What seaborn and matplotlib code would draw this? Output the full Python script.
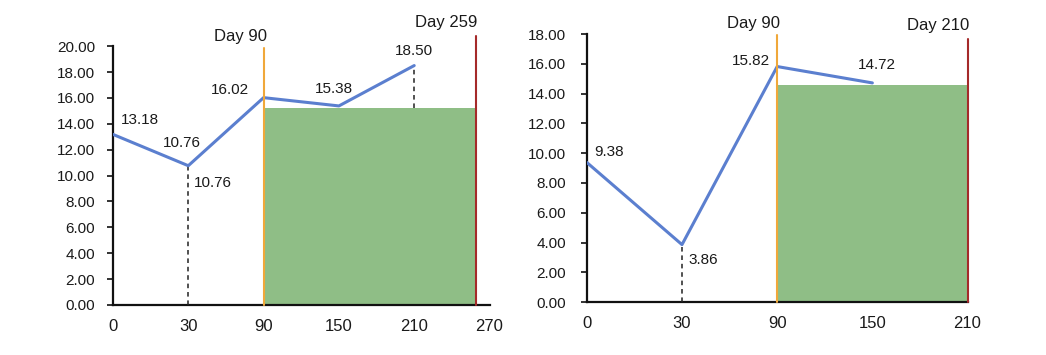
import numpy as np
import pandas as pd
import matplotlib
matplotlib.use("Agg")
import matplotlib.pyplot as plt
import seaborn as sns

# ---- data ----
left_days = ["0", "30", "90", "150", "210", "270"]
left_values = [13.18, 10.76, 16.02, 15.38, 18.50]
left_fill_level = 15.2
left_end_day = 259
left_yticks = [0, 2, 4, 6, 8, 10, 12, 14, 16, 18, 20]

right_days = ["0", "30", "90", "150", "210"]
right_values = [9.38, 3.86, 15.82, 14.72]
right_fill_level = 14.6
right_end_day = 210
right_yticks = [0, 2, 4, 6, 8, 10, 12, 14, 16, 18]

start_day_label = "Day 90"

BLUE = "#5b7fcf"
GREEN = "#8fbe86"
ORANGE = "#f0a83a"
RED = "#a52a2a"
TXT = "#1a1a1a"

sns.set_style("white")
plt.rcParams["font.family"] = ["Liberation Sans", "DejaVu Sans"]

fig = plt.figure(figsize=(10.46, 3.55), dpi=100)
axL = fig.add_axes([0.108, 0.141, 0.360, 0.729])
axR = fig.add_axes([0.561, 0.149, 0.364, 0.755])


def day_to_pos(day, days):
    d = [float(x) for x in days]
    for i in range(len(d) - 1):
        if d[i] <= day <= d[i + 1]:
            return i + (day - d[i]) / (d[i + 1] - d[i])
    return len(d) - 1


def style(ax, days, yticks, ypad):
    ax.set_xlim(0, len(days) - 1)
    ax.set_ylim(0, yticks[-1])
    ax.set_xticks(range(len(days)))
    ax.set_xticklabels(days)
    ax.set_yticks(yticks)
    ax.set_yticklabels([f"{v:.2f}" for v in yticks])
    for s in ["top", "right"]:
        ax.spines[s].set_visible(False)
    for s in ["left", "bottom"]:
        ax.spines[s].set_color("#111111")
        ax.spines[s].set_linewidth(1.6)
    ax.tick_params(axis="y", length=4, width=1.2, color="#111111", labelsize=11,
                   labelcolor=TXT, pad=ypad, left=True)
    ax.tick_params(axis="x", length=0, labelsize=12, labelcolor=TXT, pad=10)
    ax.grid(False)


def panel(ax, days, values, fill_level, end_day, yticks, ypad, dashes):
    style(ax, days, yticks, ypad)
    end_pos = day_to_pos(end_day, days)
    ax.fill_between([2, end_pos], [fill_level, fill_level], 0, color=GREEN, lw=0, zorder=1)
    df = pd.DataFrame({"pos": np.arange(len(values)), "val": values})
    sns.lineplot(data=df, x="pos", y="val", ax=ax, color=BLUE, lw=2.2, zorder=4)
    ax.set_xlabel("")
    ax.set_ylabel("")
    for (x, y0, y1) in dashes:
        ax.plot([x, x], [y0, y1], ls=(0, (3, 2.5)), color="#222222", lw=1.1, zorder=3)
    return end_pos


# left panel
endL = panel(axL, left_days, left_values, left_fill_level, left_end_day, left_yticks, 9.0,
             [(1, 0, left_values[1]), (4, left_fill_level, left_values[4])])
axL.plot([2, 2], [0, 19.85], color=ORANGE, lw=1.5, clip_on=False, zorder=5)
axL.plot([endL, endL], [0, 20.8], color=RED, lw=1.5, clip_on=False, zorder=5)
for (x, y, s) in [(0.36, 14.3, "13.18"), (0.92, 12.5, "10.76"), (1.33, 9.4, "10.76"),
                  (1.55, 16.6, "16.02"), (2.93, 16.7, "15.38"), (3.99, 19.6, "18.50")]:
    axL.text(x, y, s, ha="center", va="center", fontsize=11, color=TXT)
axL.text(1.70, 20.75, start_day_label, ha="center", va="center", fontsize=12, color=TXT, clip_on=False)
axL.text(4.43, 21.85, f"Day {left_end_day}", ha="center", va="center", fontsize=12, color=TXT, clip_on=False)

# right panel
endR = panel(axR, right_days, right_values, right_fill_level, right_end_day, right_yticks, 11.0,
             [(1, 0, right_values[1])])
axR.plot([2, 2], [0, 17.95], color=ORANGE, lw=1.5, clip_on=False, zorder=5)
axR.plot([endR, endR], [0, 17.7], color=RED, lw=1.5, clip_on=False, zorder=5)
for (x, y, s) in [(0.23, 10.1, "9.38"), (1.22, 2.8, "3.86"),
                  (1.72, 16.2, "15.82"), (3.05, 15.9, "14.72")]:
    axR.text(x, y, s, ha="center", va="center", fontsize=11, color=TXT)
axR.text(1.75, 18.7, start_day_label, ha="center", va="center", fontsize=12, color=TXT, clip_on=False)
axR.text(3.69, 18.6, f"Day {right_end_day}", ha="center", va="center", fontsize=12, color=TXT, clip_on=False)

fig.savefig("out.png", dpi=100)
